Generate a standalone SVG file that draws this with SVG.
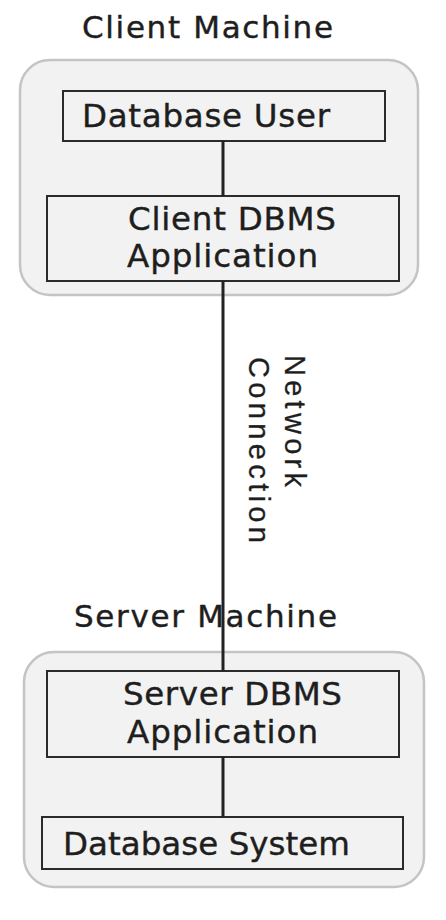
<svg xmlns="http://www.w3.org/2000/svg" width="446" height="920" viewBox="0 0 446 920">
<style>
.bg{fill:#ffffff}
.container{fill:#f2f2f2;stroke:#c4c4c4;stroke-width:2.5}
.box{fill:#f2f2f2;stroke:#2b2b2b;stroke-width:2}
.lbl{font-family:"DejaVu Sans","Noto Sans",sans-serif;fill:#1e1e1e;stroke:#1e1e1e;stroke-width:0.4}
.t30{font-size:31px}
.t32{font-size:32.5px}
.rot{font-family:"Liberation Sans",Arial,sans-serif;font-size:29px;fill:#1e1e1e;stroke:#1e1e1e;stroke-width:0.3}
.edge{stroke:#222222;stroke-width:3;fill:none}
</style>
<rect class="bg" x="0" y="0" width="446" height="920"/>
<g id="client-machine">
<rect class="container" x="20" y="60" width="398" height="235" rx="30" ry="30"/>
<text class="lbl t30" x="82" y="38" textLength="251">Client Machine</text>
</g>
<g id="server-machine">
<rect class="container" x="24" y="652" width="400" height="235" rx="30" ry="30"/>
<text class="lbl t30" x="74" y="627" textLength="263">Server Machine</text>
</g>
<g id="database-user">
<rect class="box" x="63" y="91" width="322" height="50"/>
<text class="lbl t32" x="82" y="127" textLength="248">Database User</text>
</g>
<g id="client-dbms">
<rect class="box" x="47" y="196" width="352" height="85"/>
<text class="lbl t32" x="128" y="230" textLength="208">Client DBMS</text>
<text class="lbl t32" x="127" y="267" textLength="191">Application</text>
</g>
<g id="server-dbms">
<rect class="box" x="47" y="671" width="352" height="86"/>
<text class="lbl t32" x="123" y="705" textLength="219">Server DBMS</text>
<text class="lbl t32" x="127" y="743" textLength="191">Application</text>
</g>
<g id="database-system">
<rect class="box" x="42" y="817" width="361" height="52"/>
<text class="lbl t32" x="63" y="855" textLength="287">Database System</text>
</g>
<g id="connectors">
<line class="edge" x1="223" y1="141" x2="223" y2="196"/>
<line class="edge" x1="223" y1="281" x2="223" y2="671"/>
<line class="edge" x1="223" y1="757" x2="223" y2="817"/>
<g id="network-connection-label">
<text class="rot" x="285" y="355" transform="rotate(90 285 355)" textLength="132">Network</text>
<text class="rot" x="249" y="357" transform="rotate(90 249 357)" textLength="186">Connection</text>
</g>
</g>
</svg>
